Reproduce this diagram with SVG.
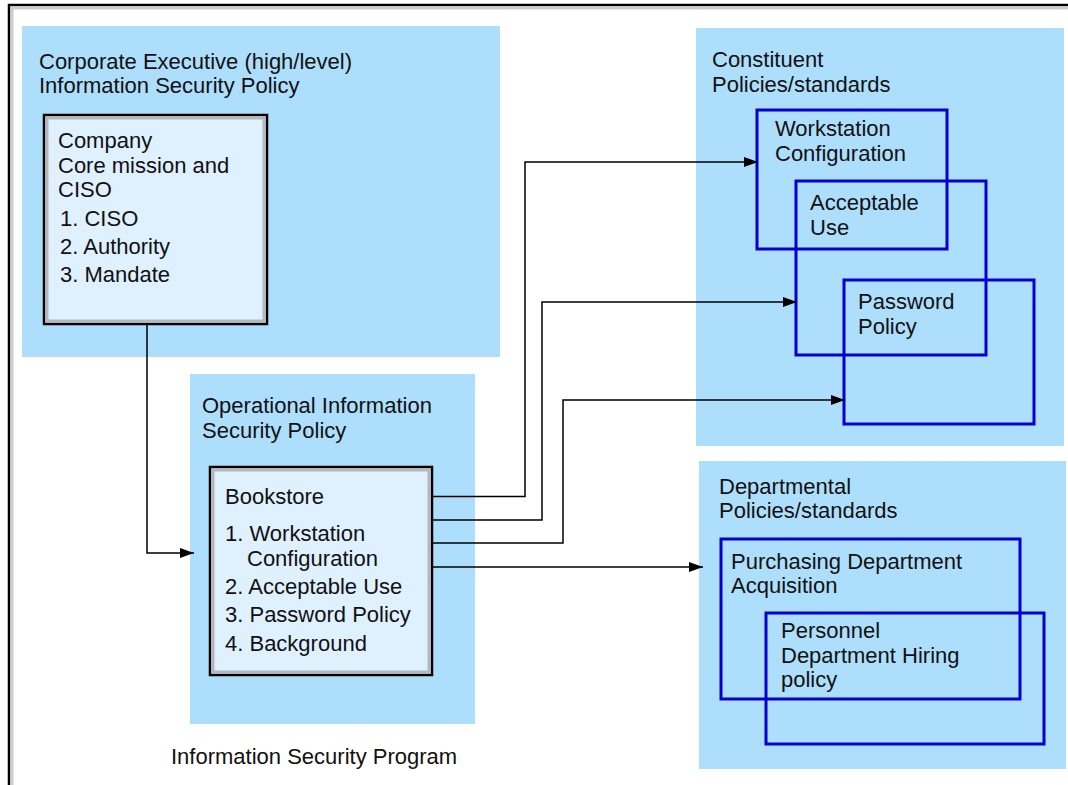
<svg xmlns="http://www.w3.org/2000/svg" width="1068" height="785" viewBox="0 0 1068 785">
<defs>
<style>
.panel{fill:#ADDFFD;stroke:none}
.box{fill:#DFF0FE;stroke:#000;stroke-width:2.5}
.inner{fill:none;stroke:#B4B8BC;stroke-width:3}
.blue{fill:none;stroke:#0000CC;stroke-width:3}
text{font-family:"Liberation Sans",Arial,sans-serif;font-size:22px;fill:#111}
.conn{fill:none;stroke:#000;stroke-width:1.5}
</style>
<marker id="arr" markerWidth="14" markerHeight="10" refX="14" refY="5" orient="auto" markerUnits="userSpaceOnUse">
<path d="M0,0 L14,5 L0,10 Z" fill="#000"/>
</marker>
</defs>
<rect x="0" y="0" width="1068" height="785" fill="#fff"/>
<g id="frame">
<path d="M9,785 V5 H1068" fill="none" stroke="#000" stroke-width="2.5"/>
<path d="M12,785 V8 H1068" fill="none" stroke="#ccc" stroke-width="3"/>
</g>
<g id="corporate">
<rect class="panel" x="22" y="26" width="478" height="331"/>
<text x="39" y="69">Corporate Executive (high/level)</text>
<text x="39" y="93">Information Security Policy</text>
</g>
<g id="company">
<rect class="box" x="44" y="115" width="223" height="209"/>
<rect class="inner" x="47" y="118" width="217" height="203"/>
<text x="58" y="148">Company</text>
<text x="58" y="173">Core mission and</text>
<text x="58" y="197">CISO</text>
<text x="60" y="226">1. CISO</text>
<text x="60" y="254">2. Authority</text>
<text x="60" y="282">3. Mandate</text>
</g>
<g id="operational">
<rect class="panel" x="190" y="374" width="285" height="350"/>
<text x="202" y="413">Operational Information</text>
<text x="202" y="438">Security Policy</text>
</g>
<g id="bookstore">
<rect class="box" x="210" y="467" width="222" height="208"/>
<rect class="inner" x="213" y="470" width="216" height="202"/>
<text x="225" y="504">Bookstore</text>
<text x="225" y="541">1. Workstation</text>
<text x="247" y="566">Configuration</text>
<text x="225" y="594">2. Acceptable Use</text>
<text x="225" y="622">3. Password Policy</text>
<text x="225" y="651">4. Background</text>
</g>
<g id="constituent">
<rect class="panel" x="696" y="28" width="368" height="418"/>
<text x="712" y="67">Constituent</text>
<text x="712" y="92">Policies/standards</text>
</g>
<g id="workstation">
<rect class="blue" x="757" y="110" width="190" height="139"/>
<text x="775" y="136">Workstation</text>
<text x="775" y="161">Configuration</text>
</g>
<g id="acceptable">
<rect class="blue" x="796" y="181" width="190" height="174"/>
<text x="810" y="210">Acceptable</text>
<text x="810" y="235">Use</text>
</g>
<g id="password">
<rect class="blue" x="844" y="280" width="190" height="144"/>
<text x="858" y="309">Password</text>
<text x="858" y="334">Policy</text>
</g>
<g id="departmental">
<rect class="panel" x="699" y="461" width="367" height="308"/>
<text x="719" y="494">Departmental</text>
<text x="719" y="518">Policies/standards</text>
</g>
<g id="purchasing">
<rect class="blue" x="721" y="539" width="299" height="160"/>
<text x="731" y="569">Purchasing Department</text>
<text x="731" y="593">Acquisition</text>
</g>
<g id="personnel">
<rect class="blue" x="766" y="613" width="278" height="131"/>
<text x="781" y="638">Personnel</text>
<text x="781" y="663">Department Hiring</text>
<text x="781" y="687">policy</text>
</g>
<g id="program">
<text x="171" y="764">Information Security Program</text>
</g>
<g id="connectors">
<path class="conn" d="M147,325 V553 H194" marker-end="url(#arr)"/>
<path class="conn" d="M433,496.5 H525 V162 H758" marker-end="url(#arr)"/>
<path class="conn" d="M433,520 H542 V302 H797" marker-end="url(#arr)"/>
<path class="conn" d="M431,543 H563 V400 H845" marker-end="url(#arr)"/>
<path class="conn" d="M433,567 H703" marker-end="url(#arr)"/>
</g>
</svg>
